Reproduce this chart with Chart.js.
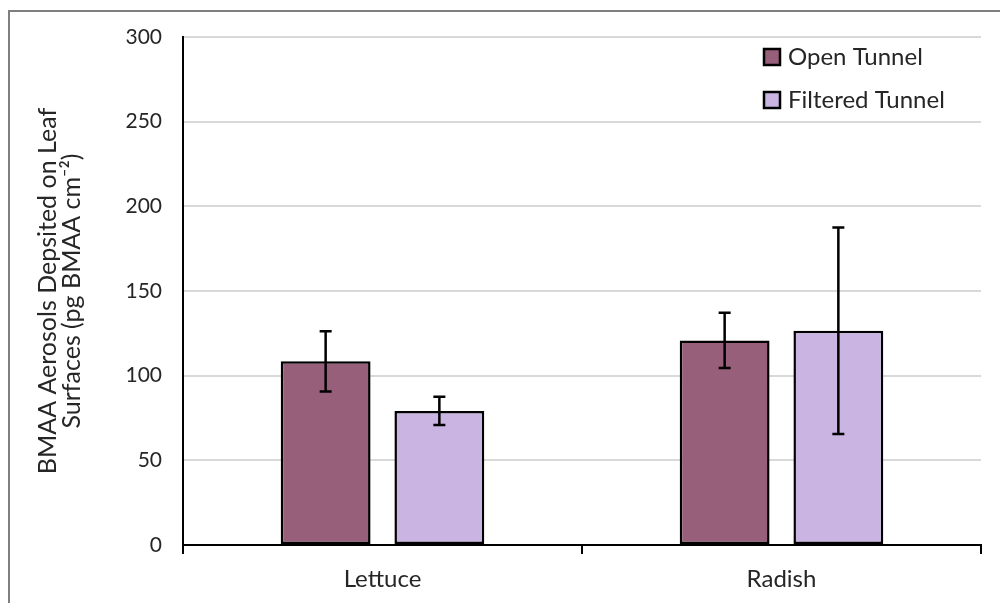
<!DOCTYPE html>
<html>
<head>
<meta charset="utf-8">
<script src="https://cdn.jsdelivr.net/npm/chart.js@4"></script>
<style>
    html, body { margin: 0; padding: 0; background: #fff; overflow: hidden; }
    #frame { position: absolute; left: 8px; top: 10px; width: 1100px; height: 700px; border: 2px solid #7f7f7f; }
    #wrap { position: absolute; left: 0; top: 0; width: 1000px; height: 603px; }
</style>
</head>
<body>
<div id="frame"></div>
<div id="wrap"><canvas id="chart"></canvas></div>
<script>
// Данные графика
const categories = ['Lettuce', 'Radish'];
const openTunnel = [108.5, 120.8];
const filteredTunnel = [79.2, 126.5];
const openErr = [17.8, 16.3];
const filteredErr = [8.3, 61];
const yTicks = [0, 50, 100, 150, 200, 250, 300];

const fontName = 'Lato';

// Планки погрешностей
const errorBars = {
    id: 'errorBars',
    afterDatasetsDraw(chart) {
        const ctx = chart.ctx;
        const y = chart.scales.y;
        chart.data.datasets.forEach((ds, i) => {
            const meta = chart.getDatasetMeta(i);
            meta.data.forEach((bar, j) => {
                const v = ds.data[j];
                const e = ds.errors[j];
                const top = y.getPixelForValue(v + e);
                const bot = y.getPixelForValue(v - e);
                ctx.save();
                ctx.strokeStyle = '#000';
                ctx.lineWidth = 2.5;
                ctx.beginPath();
                ctx.moveTo(bar.x, top);
                ctx.lineTo(bar.x, bot);
                ctx.moveTo(bar.x - 6, top);
                ctx.lineTo(bar.x + 6, top);
                ctx.moveTo(bar.x - 6, bot);
                ctx.lineTo(bar.x + 6, bot);
                ctx.stroke();
                ctx.restore();
            });
        });
    }
};

// Легенда внутри области графика
const innerLegend = {
    id: 'innerLegend',
    afterDraw(chart) {
        const ctx = chart.ctx;
        const area = chart.chartArea;
        const x0 = area.right - 217;
        let y0 = area.top + 20;
        ctx.save();
        ctx.font = '24px ' + fontName;
        ctx.textBaseline = 'middle';
        chart.data.datasets.forEach(ds => {
            ctx.fillStyle = ds.backgroundColor;
            ctx.fillRect(x0, y0 - 8, 16, 16);
            ctx.strokeStyle = '#000';
            ctx.lineWidth = 2.5;
            ctx.strokeRect(x0, y0 - 8, 16, 16);
            ctx.fillStyle = '#262626';
            ctx.fillText(ds.label, x0 + 24, y0);
            y0 += 43;
        });
        ctx.restore();
    }
};

new Chart(document.getElementById('chart'), {
    type: 'bar',
    data: {
        labels: categories,
        datasets: [
            {
                label: 'Open Tunnel',
                data: openTunnel,
                errors: openErr,
                backgroundColor: '#985f7b',
                borderColor: '#000',
                borderWidth: 2.5,
                borderSkipped: false
            },
            {
                label: 'Filtered Tunnel',
                data: filteredTunnel,
                errors: filteredErr,
                backgroundColor: '#cab4e2',
                borderColor: '#000',
                borderWidth: 2.5,
                borderSkipped: false
            }
        ]
    },
    options: {
        responsive: true,
        maintainAspectRatio: false,
        animation: false,
        categoryPercentage: 0.57,
        barPercentage: 0.79,
        layout: { padding: { top: 37, right: 19, left: 0, bottom: 0 } },
        plugins: {
            legend: { display: false },
            tooltip: { enabled: false }
        },
        scales: {
            x: {
                grid: {
                    offset: true,
                    drawOnChartArea: false,
                    drawTicks: true,
                    tickLength: 9,
                    color: '#000',
                    lineWidth: 2
                },
                border: { display: true, color: '#000', width: 2 },
                ticks: {
                    color: '#262626',
                    font: { family: fontName, size: 24 },
                    padding: 11
                },
                afterFit(scale) { scale.height = 58; }
            },
            y: {
                min: 0,
                max: 300,
                afterBuildTicks(scale) {
                    scale.ticks = yTicks.map(v => ({ value: v }));
                },
                grid: {
                    color: '#d9d9d9',
                    lineWidth: 2,
                    drawTicks: false
                },
                border: { display: true, color: '#000', width: 2 },
                ticks: {
                    color: '#262626',
                    font: { family: fontName, size: 21 },
                    padding: 21
                },
                title: {
                    display: true,
                    text: ['BMAA Aerosols Depsited on Leaf', 'Surfaces (pg BMAA cm\u207B\u00B2)'],
                    color: '#262626',
                    font: { family: fontName, size: 25, lineHeight: '24px' },
                    padding: { top: 36, bottom: 0 }
                },
                afterFit(scale) { scale.width = 183; }
            }
        }
    },
    plugins: [errorBars, innerLegend]
});
</script>
</body>
</html>
